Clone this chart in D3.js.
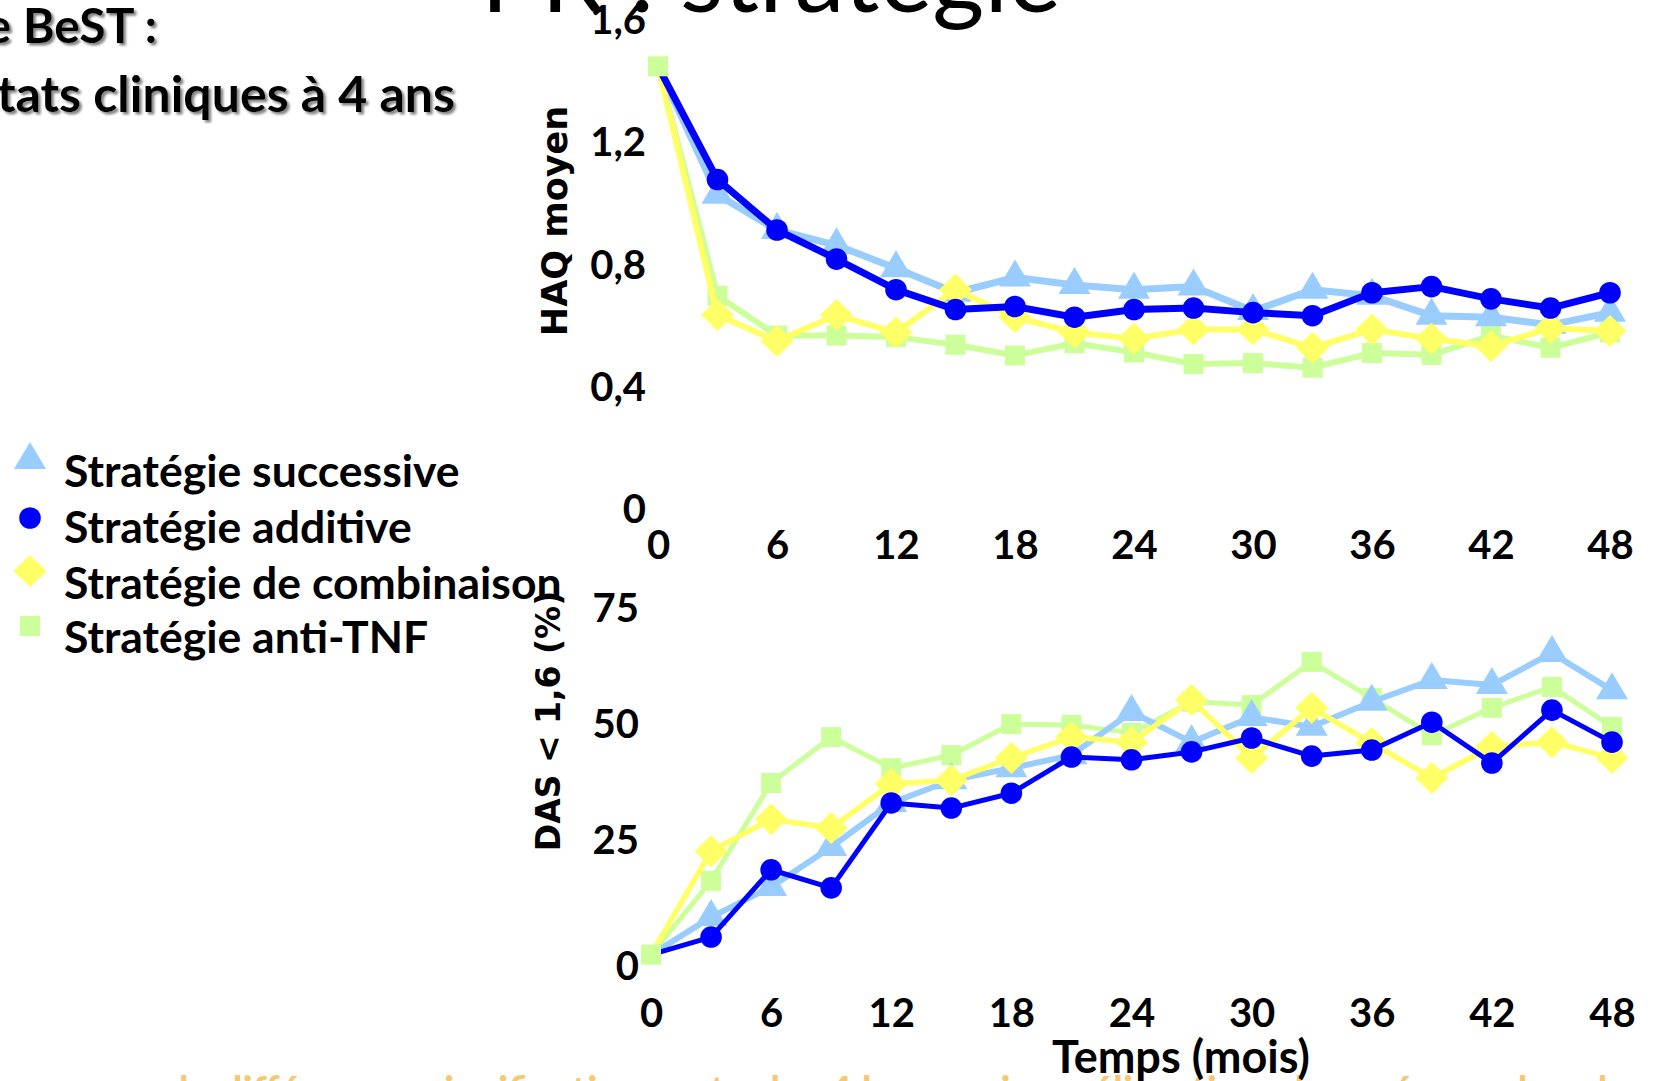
<!DOCTYPE html>
<html><head><meta charset="utf-8">
<script src="https://cdn.jsdelivr.net/npm/d3@7"></script>
<style>
html,body{margin:0;padding:0;background:#fff;overflow:hidden}
svg{display:block}
</style></head><body>
<script>
// Study months at which HAQ and DAS were measured
const months = [0, 3, 6, 9, 12, 15, 18, 21, 24, 27, 30, 33, 36, 39, 42, 45, 48];
const monthTicks = [0, 6, 12, 18, 24, 30, 36, 42, 48];
const haqTicks = [0, 0.4, 0.8, 1.2, 1.6];
const haqTickLabels = ["0", "0,4", "0,8", "1,2", "1,6"];
const dasTicks = [0, 25, 50, 75];
const dasTickLabels = ["0", "25", "50", "75"];

const seriesNames = ["Stratégie successive", "Stratégie additive", "Stratégie de combinaison", "Stratégie anti-TNF"];

// Mean HAQ
const haqSuccessive  = [1.45, 1.03, 0.915, 0.865, 0.79, 0.71, 0.76, 0.735, 0.72, 0.73, 0.65, 0.72, 0.70, 0.635, 0.63, 0.605, 0.645];
const haqAdditive    = [1.45, 1.08, 0.915, 0.82, 0.72, 0.655, 0.665, 0.63, 0.655, 0.66, 0.645, 0.635, 0.71, 0.73, 0.69, 0.66, 0.71];
const haqCombinaison = [1.45, 0.637, 0.552, 0.637, 0.58, 0.72, 0.63, 0.58, 0.56, 0.59, 0.59, 0.53, 0.59, 0.56, 0.535, 0.595, 0.585];
const haqAntiTNF     = [1.45, 0.70, 0.57, 0.57, 0.565, 0.54, 0.505, 0.545, 0.515, 0.477, 0.48, 0.465, 0.513, 0.507, 0.57, 0.53, 0.58];

// Patients with DAS < 1.6 (%)
const dasSuccessive  = [0.5, 8.6, 15.1, 23.7, 33.2, 38.1, 40.7, 43.5, 52.8, 46.3, 51.7, 49.6, 55.0, 59.7, 58.6, 65.5, 57.5];
const dasAdditive    = [0.5, 4.3, 18.8, 14.9, 33.2, 32.1, 35.3, 43.1, 42.5, 44.2, 47.2, 43.3, 44.6, 50.6, 41.8, 53.2, 46.3];
const dasCombinaison = [0.5, 22.8, 29.7, 27.8, 37.3, 38.1, 42.9, 47.4, 46.3, 55.4, 42.9, 53.7, 46.1, 38.6, 45.3, 46.3, 42.9];
const dasAntiTNF     = [0.5, 16.4, 37.5, 47.4, 40.7, 43.5, 50.2, 50.0, 48.3, 55.0, 54.3, 63.6, 55.8, 47.8, 53.7, 58.2, 49.6];

const W = 1653, H = 1081;
const svg = d3.select("body").append("svg").attr("width", W).attr("height", H);

const defs = svg.append("defs");
const f = defs.append("filter").attr("id", "shadow").attr("x", "-5%").attr("y", "-20%").attr("width", "120%").attr("height", "160%");
f.append("feDropShadow").attr("dx", 2.5).attr("dy", 2.5).attr("stdDeviation", 1).attr("flood-color", "#777").attr("flood-opacity", 0.9);

// Series styling, in legend order
const styles = [
  {name: seriesNames[0], color: "#99CCFF", shape: "triangle"},
  {name: seriesNames[1], color: "#0000FF", shape: "circle"},
  {name: seriesNames[2], color: "#FFFF66", shape: "diamond"},
  {name: seriesNames[3], color: "#CCFF99", shape: "square"}
];

function markerPath(shape, s) {
  if (shape === "triangle") {
    const w = 32 * s, h = 27 * s;
    return `M0,${-2*h/3}L${w/2},${h/3}L${-w/2},${h/3}Z`;
  }
  if (shape === "diamond") {
    const w = 33 * s, h = 32 * s;
    return `M0,${-h/2}L${w/2},0L0,${h/2}L${-w/2},0Z`;
  }
  if (shape === "square") {
    const a = 20 * s;
    return `M${-a/2},${-a/2}h${a}v${a}h${-a}Z`;
  }
  const r = 10.8 * s;
  return `M${r},0A${r},${r} 0 1,1 ${-r},0A${r},${r} 0 1,1 ${r},0Z`;
}

const tickFont = "Lato, 'Open Sans', sans-serif";

function drawPanel(cfg) {
  const g = svg.append("g");
  const x = d3.scaleLinear().domain([0, 48]).range(cfg.xRange);
  const y = d3.scaleLinear().domain(cfg.yDomain).range(cfg.yRange);

  const yAxis = d3.axisLeft(y).tickValues(cfg.yTicks)
    .tickFormat((d, i) => cfg.yLabels[i]).tickSize(0).tickPadding(0);
  const ya = g.append("g").attr("transform", `translate(${cfg.yAxisX},0)`).call(yAxis);
  ya.select(".domain").remove();
  ya.selectAll("text").attr("font-family", tickFont).attr("font-weight", 700)
    .attr("font-size", 40).attr("fill", "#000");
  ya.selectAll(".tick").filter(d => d === 0).select("text").attr("dy", cfg.zeroDy);

  const xAxis = d3.axisBottom(x).tickValues(monthTicks).tickSize(0).tickPadding(0);
  const xa = g.append("g").attr("transform", `translate(0,${cfg.xAxisY})`).call(xAxis);
  xa.select(".domain").remove();
  xa.selectAll("text").attr("font-family", tickFont).attr("font-weight", 700)
    .attr("font-size", 40).attr("fill", "#000");

  g.append("text")
    .attr("transform", `translate(${cfg.titleX},${cfg.titleY}) rotate(-90)`)
    .attr("text-anchor", "middle")
    .attr("font-family", "'DejaVu Sans', Verdana, sans-serif")
    .attr("font-weight", 700).attr("font-size", cfg.titleSize)
    .text(cfg.title);

  const drawOrder = [3, 0, 2, 1];
  const line = d3.line().x(d => x(d.m)).y(d => y(d.v));
  drawOrder.forEach(k => {
    const pts = months.map((m, i) => ({m, v: cfg.series[k][i]}));
    const st = styles[k];
    g.append("path").datum(pts).attr("d", line)
      .attr("fill", "none").attr("stroke", st.color)
      .attr("stroke-width", cfg.widths[k]).attr("stroke-linejoin", "round");
    g.selectAll(null).data(pts.filter(d => d.m > 0)).join("path")
      .attr("transform", d => `translate(${x(d.m)},${y(d.v)})`)
      .attr("d", markerPath(st.shape, 1)).attr("fill", st.color);
  });
  // shared baseline point, drawn on top
  const k0 = 3;
  g.append("path")
    .attr("transform", `translate(${x(months[0])},${y(cfg.series[k0][0])})`)
    .attr("d", markerPath(styles[k0].shape, 1)).attr("fill", styles[k0].color);
}

drawPanel({
  xRange: [658, 1610], yDomain: [0, 1.6], yRange: [510, 20.4],
  yTicks: haqTicks, yLabels: haqTickLabels, yAxisX: 646, xAxisY: 531, zeroDy: "0.32em",
  title: "HAQ moyen", titleX: 567, titleY: 221, titleSize: 35,
  series: [haqSuccessive, haqAdditive, haqCombinaison, haqAntiTNF],
  widths: [7, 7, 6, 6]
});

drawPanel({
  xRange: [651, 1612], yDomain: [0, 75], yRange: [957, 609],
  yTicks: dasTicks, yLabels: dasTickLabels, yAxisX: 639, xAxisY: 999, zeroDy: "0.55em",
  title: "DAS < 1,6 (%)", titleX: 560, titleY: 721, titleSize: 33,
  series: [dasSuccessive, dasAdditive, dasCombinaison, dasAntiTNF],
  widths: [6, 5, 5.5, 5]
});

// Conclusion line at the foot of the slide
svg.append("text").attr("x", 55).attr("y", 1105)
  .attr("font-family", tickFont).attr("font-weight", 700).attr("font-size", 40).attr("fill", "#F8C771")
  .text("… pas de différences significatives entre les 4 bras mais amélioration plus précoce dans les bras 3 et 4");

// X axis title under the lower panel
svg.append("text").attr("x", 1181).attr("y", 1073).attr("text-anchor", "middle")
  .attr("font-family", tickFont).attr("font-weight", 700).attr("font-size", 45)
  .text("Temps (mois)");

// Legend
const legendY = [460, 518, 571, 626];
const textY = [487, 543, 599, 653];
const lg = svg.append("g");
styles.forEach((st, i) => {
  lg.append("path").attr("transform", `translate(30,${legendY[i]})`)
    .attr("d", markerPath(st.shape, 1.0)).attr("fill", st.color);
  lg.append("text").attr("x", 64).attr("y", textY[i])
    .attr("font-family", tickFont).attr("font-weight", 700).attr("font-size", 44.5)
    .text(st.name);
});

// Slide headings
svg.append("text").attr("x", 1061).attr("y", 12).attr("text-anchor", "end")
  .attr("font-family", tickFont).attr("font-size", 100).attr("fill", "#000")
  .text("PR : stratégie");

const head = svg.append("g").attr("filter", "url(#shadow)")
  .attr("font-family", tickFont).attr("font-weight", 700).attr("fill", "#000");
head.append("text").attr("x", 157).attr("y", 43).attr("text-anchor", "end").attr("font-size", 48).text("Étude BeST :");
head.append("text").attr("x", 455).attr("y", 112).attr("text-anchor", "end").attr("font-size", 50).text("Résultats cliniques à 4 ans");
</script>
</body></html>
